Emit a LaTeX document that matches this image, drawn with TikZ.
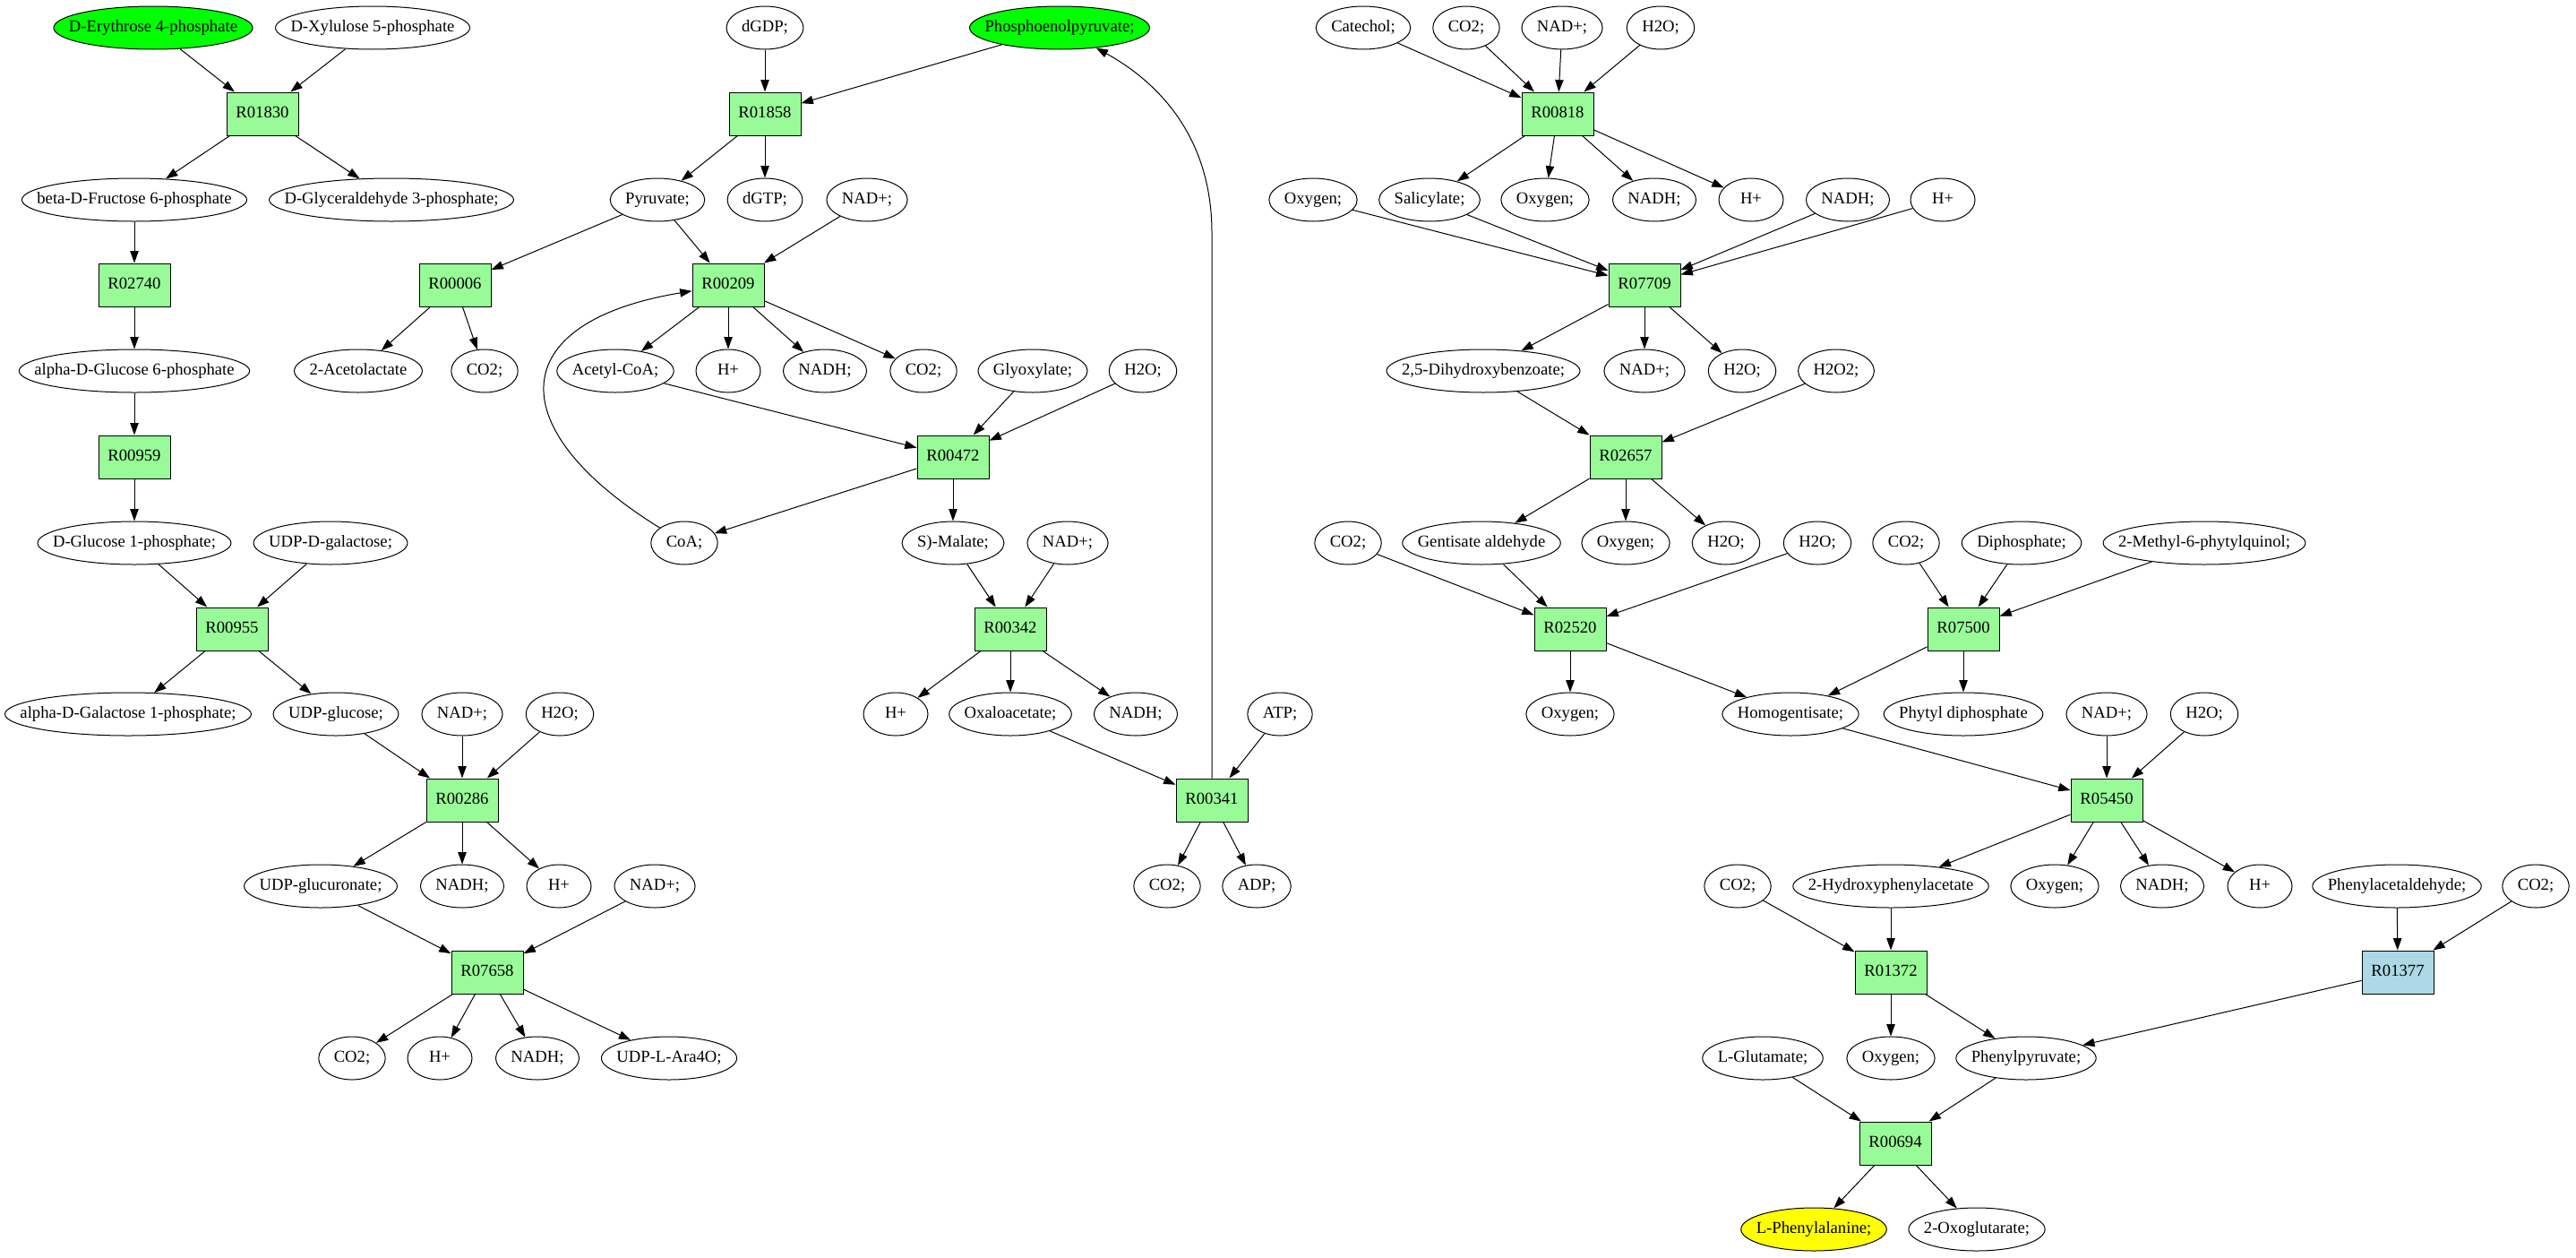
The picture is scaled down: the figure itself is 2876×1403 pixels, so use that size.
\documentclass[tikz,border=0pt]{standalone}
\usepackage{fontspec}
\setmainfont{Liberation Serif}
\usetikzlibrary{shapes.geometric,arrows.meta}
\definecolor{rxnfill}{HTML}{98FB98}
\definecolor{rxnblue}{HTML}{ADD8E6}
\definecolor{mgreen}{HTML}{00FF00}
\definecolor{myellow}{HTML}{FFFF00}
\newlength\mtw
\newcommand\mtext[1]{%
  \settowidth{\mtw}{#1}%
  \pgfmathsetlengthmacro\mw{max(54pt,\mtw+25.5pt)/1.41421}%
  \makebox[\mw]{#1}}
\newcommand\mnode[4][]{%
  \node[met,#1] (#2) at (#3) {\mtext{#4}};}
\newcommand\rnode[3][]{\node[rxn,#1] (#2) at (#3) {#2};}
\tikzset{
  met/.style={ellipse, draw, minimum height=36pt, inner sep=0pt, line width=0.75pt,
    text height=9.5pt, text depth=3pt, font=\fontsize{14pt}{16pt}\selectfont},
  rxn/.style={rectangle, draw, fill=rxnfill, minimum width=60pt, minimum height=36pt,
    inner sep=0pt, line width=0.75pt, text height=9.5pt, text depth=3pt,
    font=\fontsize{14pt}{16pt}\selectfont},
  edge/.style={-{Triangle[length=10pt,width=7pt]}, line width=0.75pt}
}
\begin{document}
\begin{tikzpicture}[x=0.75pt,y=-0.75pt]
\fill[white] (0,0) rectangle (2876,1403);
\useasboundingbox (0,0) rectangle (2876,1403);
% ---------- column 1 ----------
\mnode[fill=mgreen]{ery}{171,31}{D-Erythrose 4-phosphate}
\mnode{xyl}{416,31}{D-Xylulose 5-phosphate}
\rnode{R01830}{293,127}
\mnode{fru}{150,223}{beta-D-Fructose 6-phosphate}
\mnode{gap}{437,223}{D-Glyceraldehyde 3-phosphate;}
\rnode{R02740}{150,318}
\mnode{g6p}{150,414}{alpha-D-Glucose 6-phosphate}
\rnode{R00959}{150,510}
\mnode{g1p}{150,606}{D-Glucose 1-phosphate;}
\mnode{udpgal}{369,606}{UDP-D-galactose;}
\rnode{R00955}{259,702}
\mnode{gal1p}{143,797}{alpha-D-Galactose 1-phosphate;}
\mnode{udpglc}{375,797}{UDP-glucose;}
\mnode{nadA}{516,797}{NAD+;}
\mnode{watA}{625,797}{H2O;}
\rnode{R00286}{516,893}
\mnode{udpgla}{358,989}{UDP-glucuronate;}
\mnode{nadhA}{516,989}{NADH;}
\mnode{hpA}{624,989}{H+}
\mnode{nadB}{731,989}{NAD+;}
\rnode{R07658}{544,1085}
\mnode{co2A}{393,1181}{CO2;}
\mnode{hpB}{491,1181}{H+}
\mnode{nadhB}{600,1181}{NADH;}
\mnode{ara}{747,1181}{UDP-L-Ara4O;}
% ---------- column 2 ----------
\mnode{dgdp}{854,31}{dGDP;}
\mnode[fill=mgreen]{pep}{1183,31}{Phosphoenolpyruvate;}
\rnode{R01858}{854,127}
\mnode{pyr}{734,223}{Pyruvate;}
\mnode{dgtp}{854,223}{dGTP;}
\mnode{nadC}{968,223}{NAD+;}
\rnode{R00006}{508,318}
\rnode{R00209}{813,318}
\mnode{acl}{400,414}{2-Acetolactate}
\mnode{co2B}{541,414}{CO2;}
\mnode{accoa}{687,414}{Acetyl-CoA;}
\mnode{hpC}{813,414}{H+}
\mnode{nadhC}{921,414}{NADH;}
\mnode{co2C}{1031,414}{CO2;}
\mnode{glx}{1153,414}{Glyoxylate;}
\mnode{watB}{1276,414}{H2O;}
\rnode{R00472}{1064,510}
\mnode{coa}{764,606}{CoA;}
\mnode{mal}{1064,606}{S)-Malate;}
\mnode{nadD}{1192,606}{NAD+;}
\rnode{R00342}{1128,702}
\mnode{hpD}{1000,797}{H+}
\mnode{oaa}{1128,797}{Oxaloacetate;}
\mnode{nadhD}{1268,797}{NADH;}
\mnode{atp}{1429,797}{ATP;}
\rnode{R00341}{1353,893}
\mnode{co2D}{1303,989}{CO2;}
\mnode{adp}{1403,989}{ADP;}
% ---------- column 3 ----------
\mnode{cat}{1522,31}{Catechol;}
\mnode{co2E}{1637,31}{CO2;}
\mnode{nadE}{1744,31}{NAD+;}
\mnode{watC}{1854,31}{H2O;}
\rnode{R00818}{1739,127}
\mnode{oxyA}{1466,223}{Oxygen;}
\mnode{sal}{1596,223}{Salicylate;}
\mnode{oxyB}{1725,223}{Oxygen;}
\mnode{nadhE}{1847,223}{NADH;}
\mnode{hpE}{1955,223}{H+}
\mnode{nadhF}{2063,223}{NADH;}
\mnode{hpF}{2169,223}{H+}
\rnode{R07709}{1836,318}
\mnode{dhb}{1656,414}{2,5-Dihydroxybenzoate;}
\mnode{nadF}{1836,414}{NAD+;}
\mnode{watD}{1945,414}{H2O;}
\mnode{perox}{2050,414}{H2O2;}
\rnode{R02657}{1815,510}
\mnode{co2F}{1505,606}{CO2;}
\mnode{gald}{1654,606}{Gentisate aldehyde}
\mnode{oxyC}{1815,606}{Oxygen;}
\mnode{watE}{1927,606}{H2O;}
\mnode{watF}{2029,606}{H2O;}
\mnode{co2G}{2128,606}{CO2;}
\mnode{dip}{2257,606}{Diphosphate;}
\mnode{mpq}{2461,606}{2-Methyl-6-phytylquinol;}
\rnode{R02520}{1753,702}
\rnode{R07500}{2192,702}
\mnode{oxyD}{1753,797}{Oxygen;}
\mnode{hga}{1999,797}{Homogentisate;}
\mnode{phdp}{2192,797}{Phytyl diphosphate}
\mnode{nadG}{2352,797}{NAD+;}
\mnode{watG}{2461,797}{H2O;}
\rnode{R05450}{2352,893}
\mnode{co2H}{1940,989}{CO2;}
\mnode{hpa}{2111,989}{2-Hydroxyphenylacetate}
\mnode{oxyE}{2294,989}{Oxygen;}
\mnode{nadhG}{2414,989}{NADH;}
\mnode{hpG}{2523,989}{H+}
\mnode{pald}{2676,989}{Phenylacetaldehyde;}
\mnode{co2I}{2831,989}{CO2;}
\rnode{R01372}{2111,1085}
\rnode[fill=rxnblue]{R01377}{2677,1085}
\mnode{glu}{1968,1181}{L-Glutamate;}
\mnode{oxyF}{2111,1181}{Oxygen;}
\mnode{ppy}{2262,1181}{Phenylpyruvate;}
\rnode{R00694}{2116,1276}
\mnode[fill=myellow]{phe}{2025,1372}{L-Phenylalanine;}
\mnode{oxg}{2207,1372}{2-Oxoglutarate;}
% ---------- edges ----------
\foreach \a/\b in {ery/R01830, xyl/R01830, R01830/fru, R01830/gap, fru/R02740,
  R02740/g6p, g6p/R00959, R00959/g1p, g1p/R00955, udpgal/R00955, R00955/gal1p,
  R00955/udpglc, udpglc/R00286, nadA/R00286, watA/R00286, R00286/udpgla,
  R00286/nadhA, R00286/hpA, udpgla/R07658, nadB/R07658, R07658/co2A, R07658/hpB,
  R07658/nadhB, R07658/ara,
  dgdp/R01858, pep/R01858, R01858/pyr, R01858/dgtp, pyr/R00006, pyr/R00209,
  nadC/R00209, R00006/acl, R00006/co2B, R00209/accoa, R00209/hpC, R00209/nadhC,
  R00209/co2C, accoa/R00472, glx/R00472, watB/R00472, R00472/coa, R00472/mal,
  mal/R00342, nadD/R00342, R00342/hpD, R00342/oaa, R00342/nadhD, oaa/R00341,
  atp/R00341, R00341/co2D, R00341/adp,
  cat/R00818, co2E/R00818, nadE/R00818, watC/R00818, R00818/sal, R00818/oxyB,
  R00818/nadhE, R00818/hpE, oxyA/R07709, sal/R07709, nadhF/R07709, hpF/R07709,
  R07709/dhb, R07709/nadF, R07709/watD, dhb/R02657, perox/R02657, R02657/gald,
  R02657/oxyC, R02657/watE, co2F/R02520, gald/R02520, watF/R02520, R02520/oxyD,
  R02520/hga, co2G/R07500, dip/R07500, mpq/R07500, R07500/hga, R07500/phdp,
  hga/R05450, nadG/R05450, watG/R05450, R05450/hpa, R05450/oxyE, R05450/nadhG,
  R05450/hpG, co2H/R01372, hpa/R01372, R01372/oxyF, R01372/ppy, pald/R01377,
  co2I/R01377, R01377/ppy, glu/R00694, ppy/R00694, R00694/phe, R00694/oxg}
  \draw[edge] (\a) -- (\b);
\coordinate (bend) at (1353,260);
\draw[edge] (coa) .. controls (560,480) and (560,360) .. (R00209);
\draw[edge] (R00341.north) -- (bend) .. controls (1353,150) and (1290,90) .. (pep);
\end{tikzpicture}
\end{document}
